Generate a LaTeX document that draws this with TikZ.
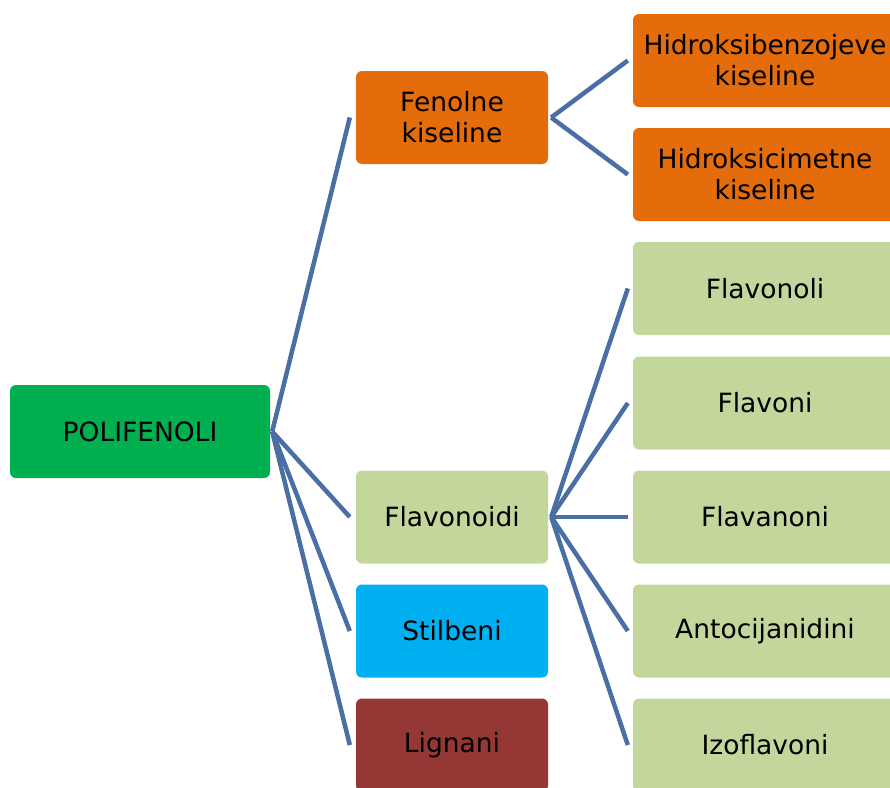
\documentclass[tikz,border=0pt]{standalone}
\usepackage{fontspec}
\setmainfont{DejaVu Sans}
\usetikzlibrary{calc}
\definecolor{rootgreen}{HTML}{00B050}
\definecolor{orangebox}{HTML}{E46C0A}
\definecolor{lightgreen}{HTML}{C3D69B}
\definecolor{cyanbox}{HTML}{00B0F0}
\definecolor{redbox}{HTML}{953735}
\definecolor{linkblue}{HTML}{4A6FA5}
\begin{document}
\begin{tikzpicture}[x=1pt,y=-1pt,
  box/.style={rounded corners=6pt, inner sep=0pt, align=center,
    font=\fontsize{26.5}{31}\selectfont, minimum height=93pt, text=black},
  rootbox/.style={box, fill=rootgreen, minimum width=260pt},
  midbox/.style={box, minimum width=192pt},
  leafbox/.style={box, minimum width=264pt},
  link/.style={draw=linkblue, line width=4.5pt}]
\clip (0,0) rectangle (890,787);
\fill[white] (0,0) rectangle (890,787);
% root
\node[rootbox] (root) at (140,431.5) {POLIFENOLI};
% middle column
\node[midbox, fill=orangebox] (fen) at (452,117.5) {Fenolne\\kiseline};
\node[midbox, fill=lightgreen] (flav) at (452,517) {Flavonoidi};
\node[midbox, fill=cyanbox] (stil) at (452,631) {Stilbeni};
\node[midbox, fill=redbox] (lign) at (452,745) {Lignani};
% right column
\node[leafbox, fill=orangebox] (hb) at (765,60.5) {Hidroksibenzojeve\\kiseline};
\node[leafbox, fill=orangebox] (hc) at (765,174.5) {Hidroksicimetne\\kiseline};
\node[leafbox, fill=lightgreen] (fl1) at (765,288.5) {Flavonoli};
\node[leafbox, fill=lightgreen] (fl2) at (765,403) {Flavoni};
\node[leafbox, fill=lightgreen] (fl3) at (765,517) {Flavanoni};
\node[leafbox, fill=lightgreen] (fl4) at (765,631) {Antocijanidini};
\node[leafbox, fill=lightgreen] (fl5) at (765,745) {Izoflavoni};
% connectors
\foreach \c in {fen,flav,stil,lign}
  \draw[link] ($(root.east)+(2,0)$) -- ($(\c.west)+(-6,0)$);
\foreach \c in {hb,hc}
  \draw[link] ($(fen.east)+(3,0)$) -- ($(\c.west)+(-5,0)$);
\foreach \c in {fl1,fl2,fl3,fl4,fl5}
  \draw[link] ($(flav.east)+(3,0)$) -- ($(\c.west)+(-5,0)$);
\end{tikzpicture}
\end{document}
